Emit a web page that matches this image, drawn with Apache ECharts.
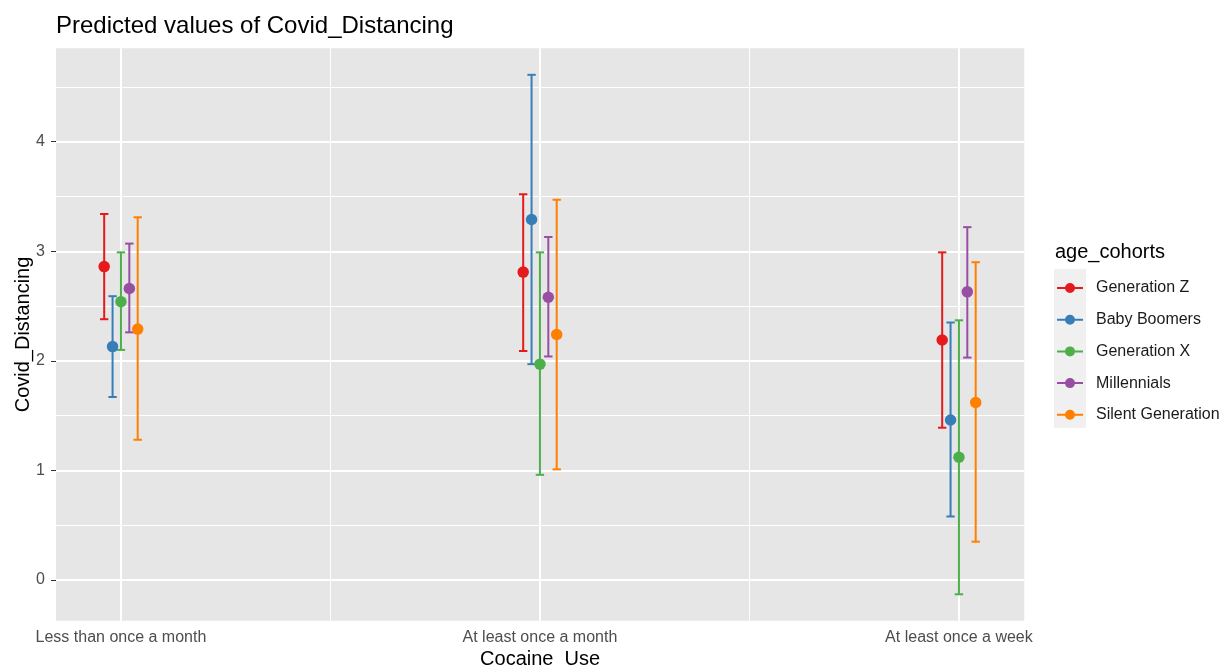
<!DOCTYPE html>
<html>
<head>
<meta charset="utf-8">
<script src="https://cdn.jsdelivr.net/npm/echarts@6/dist/echarts.min.js"></script>
<style>
html,body{margin:0;padding:0;background:#fff;}
#chart{width:1223px;height:667px;}
</style>
</head>
<body>
<div id="chart"></div>
<script>
const categories = ['Less than once a month', 'At least once a month', 'At least once a week'];
const cohorts = ['Generation Z', 'Baby Boomers', 'Generation X', 'Millennials', 'Silent Generation'];

const estGenZ = [2.86, 2.81, 2.19];
const lowGenZ = [2.38, 2.09, 1.39];
const highGenZ = [3.34, 3.52, 2.99];

const estBoomers = [2.13, 3.29, 1.46];
const lowBoomers = [1.67, 1.97, 0.58];
const highBoomers = [2.59, 4.61, 2.35];

const estGenX = [2.54, 1.97, 1.12];
const lowGenX = [2.10, 0.96, -0.13];
const highGenX = [2.99, 2.99, 2.37];

const estMillennials = [2.66, 2.58, 2.63];
const lowMillennials = [2.26, 2.04, 2.03];
const highMillennials = [3.07, 3.13, 3.22];

const estSilent = [2.29, 2.24, 1.62];
const lowSilent = [1.28, 1.01, 0.35];
const highSilent = [3.31, 3.47, 2.90];

const yTicks = [0, 1, 2, 3, 4];
const yMinorTicks = [0.5, 1.5, 2.5, 3.5, 4.5];
const xMinorTicks = [1.5, 2.5];

const estimates = [estGenZ, estBoomers, estGenX, estMillennials, estSilent];
const lows = [lowGenZ, lowBoomers, lowGenX, lowMillennials, lowSilent];
const highs = [highGenZ, highBoomers, highGenX, highMillennials, highSilent];
const colors = ['#E41A1C', '#377EB8', '#4DAF4A', '#984EA3', '#FF7F00'];
const dodgeStep = 0.02;
const capWidth = 0.02;
const FONT = 'Liberation Sans, Arial, Helvetica, sans-serif';

const chart = echarts.init(document.getElementById('chart'), null, {renderer: 'canvas'});

const series = [];
cohorts.forEach((name, k) => {
  const off = (k - 2) * dodgeStep;
  series.push({
    type: 'custom', name: name, z: 2, silent: true,
    itemStyle: {color: colors[k]},
    data: categories.map((c, i) => [i + 1 + off, lows[k][i], highs[k][i]]),
    renderItem: function (params, api) {
      const x = api.value(0);
      const lo = api.coord([x, api.value(1)]);
      const hi = api.coord([x, api.value(2)]);
      const hw = api.size([capWidth, 0])[0] / 2;
      const st = {stroke: colors[k], lineWidth: 2};
      return {
        type: 'group',
        children: [
          {type: 'line', shape: {x1: lo[0], y1: lo[1], x2: hi[0], y2: hi[1]}, style: st},
          {type: 'line', shape: {x1: lo[0] - hw, y1: lo[1], x2: lo[0] + hw, y2: lo[1]}, style: st},
          {type: 'line', shape: {x1: hi[0] - hw, y1: hi[1], x2: hi[0] + hw, y2: hi[1]}, style: st}
        ]
      };
    },
    encode: {x: 0, y: [1, 2]}
  });
  series.push({
    type: 'scatter', name: name, z: 3,
    symbol: 'circle', symbolSize: 11.5,
    itemStyle: {color: colors[k], opacity: 1},
    data: categories.map((c, i) => [i + 1 + off, estimates[k][i]])
  });
});
// gridlines via markLine on a dummy series, kept underneath the marks
series.push({
  type: 'scatter', name: '__grid', data: [[2, 2]], symbolSize: 0, silent: true, z: 1,
  itemStyle: {color: '#ffffff'},
  markLine: {
    silent: true, symbol: 'none', animation: false, z: 1,
    label: {show: false},
    emphasis: {disabled: true},
    data: [
      ...yMinorTicks.map(v => ({yAxis: v, lineStyle: {color: '#fff', width: 1, type: 'solid'}})),
      ...xMinorTicks.map(v => ({xAxis: v, lineStyle: {color: '#fff', width: 1, type: 'solid'}})),
      ...yTicks.map(v => ({yAxis: v, lineStyle: {color: '#fff', width: 2, type: 'solid'}})),
      ...categories.map((c, i) => ({xAxis: i + 1, lineStyle: {color: '#fff', width: 2, type: 'solid'}}))
    ]
  }
});

const legendIcon = 'path://M0,4L26,4L26,6L0,6Z M13,0A5,5,0,1,1,13,10A5,5,0,1,1,13,0Z';

const option = {
  animation: false,
  backgroundColor: '#ffffff',
  color: colors,
  textStyle: {fontFamily: FONT},
  title: [
    {text: 'Predicted values of Covid_Distancing', left: 56, top: 14, padding: 0,
     textStyle: {fontFamily: FONT, fontSize: 24, fontWeight: 'normal', color: '#000'}},
    {text: 'age_cohorts', left: 1055, top: 242, padding: 0,
     textStyle: {fontFamily: FONT, fontSize: 20, fontWeight: 'normal', color: '#000'}}
  ],
  graphic: [
    {type: 'rect', left: 1054, top: 269, shape: {width: 32, height: 159}, style: {fill: '#F0F0F0'}, z: 0, silent: true}
  ],
  legend: {
    orient: 'vertical', left: 1057, top: 280, padding: 0,
    itemWidth: 26, itemHeight: 10, itemGap: 15.7, z: 5,
    selectedMode: false,
    data: cohorts.map((n, k) => ({name: n, icon: legendIcon, itemStyle: {color: colors[k]}})),
    textStyle: {fontFamily: FONT, fontSize: 16, color: '#1A1A1A', lineHeight: 16, padding: [0, 0, 0, 8]}
  },
  grid: {left: 56, top: 48.3, right: 198.7, bottom: 46.3, show: true, backgroundColor: '#E6E6E6', borderWidth: 0,
         containLabel: false, outerBoundsMode: 'none'},
  xAxis: {
    type: 'value', min: 0.845, max: 3.156,
    name: 'Cocaine_Use', nameLocation: 'middle', nameGap: 29, nameMoveOverlap: false,
    nameTextStyle: {fontFamily: FONT, fontSize: 20, color: '#000'},
    axisLine: {show: false},
    axisTick: {show: true, length: 5, lineStyle: {color: '#333333', width: 1}, customValues: categories.map((c, i) => i + 1)},
    axisLabel: {show: true, fontFamily: FONT, fontSize: 16, color: '#4D4D4D', margin: 9,
      customValues: categories.map((c, i) => i + 1),
      formatter: v => categories[Math.round(v) - 1] || ''},
    splitLine: {show: false}
  },
  yAxis: {
    type: 'value', min: -0.371, max: 4.852,
    name: 'Covid_Distancing', nameLocation: 'middle', nameGap: 23, nameRotate: 90, nameMoveOverlap: false,
    nameTextStyle: {fontFamily: FONT, fontSize: 20, color: '#000'},
    axisLine: {show: false},
    axisTick: {show: true, length: 5, lineStyle: {color: '#333333', width: 1}, customValues: yTicks},
    axisLabel: {show: true, fontFamily: FONT, fontSize: 16, color: '#4D4D4D', margin: 11,
      customValues: yTicks, formatter: v => String(v)},
    splitLine: {show: false}
  },
  series: series
};
chart.setOption(option);
</script>
</body>
</html>
